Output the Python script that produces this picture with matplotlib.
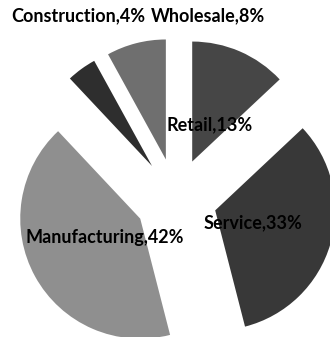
import matplotlib
matplotlib.use("Agg")
import matplotlib.pyplot as plt

# sector shares, clockwise from 12 o'clock
sectors = ["Retail", "Service", "Manufacturing", "Construction", "Wholesale"]
shares = [13, 33, 42, 4, 8]
shades = ["#464646", "#383838", "#8f8f8f", "#2e2e2e", "#6f6f6f"]

# where each label sits (data units, pie radius = 1)
label_xy = [(0.283, 0.617), (0.642, -0.20), (-0.592, -0.317),
            (-0.817, 1.525), (0.267, 1.525)]

fig = plt.figure(figsize=(3.30, 3.37), dpi=100)
ax = fig.add_axes([0, 0, 1, 1])

ax.pie(shares, colors=shades, startangle=90, counterclock=False,
       explode=[0.34] * len(shares), radius=1.0,
       wedgeprops=dict(linewidth=0))

for name, pct, (x, y) in zip(sectors, shares, label_xy):
    ax.text(x, y, f"{name},{pct}%", ha="center", va="center",
            fontsize=13, fontweight="bold", family="Lato", color="black")

# pixel scale: 120 px per unit radius, centre at (176, 199) from top-left
ax.set_xlim(-176 / 120, 154 / 120)
ax.set_ylim(-138 / 120, 199 / 120)
ax.set_aspect("auto")
ax.axis("off")

fig.savefig("out.png", dpi=100)
